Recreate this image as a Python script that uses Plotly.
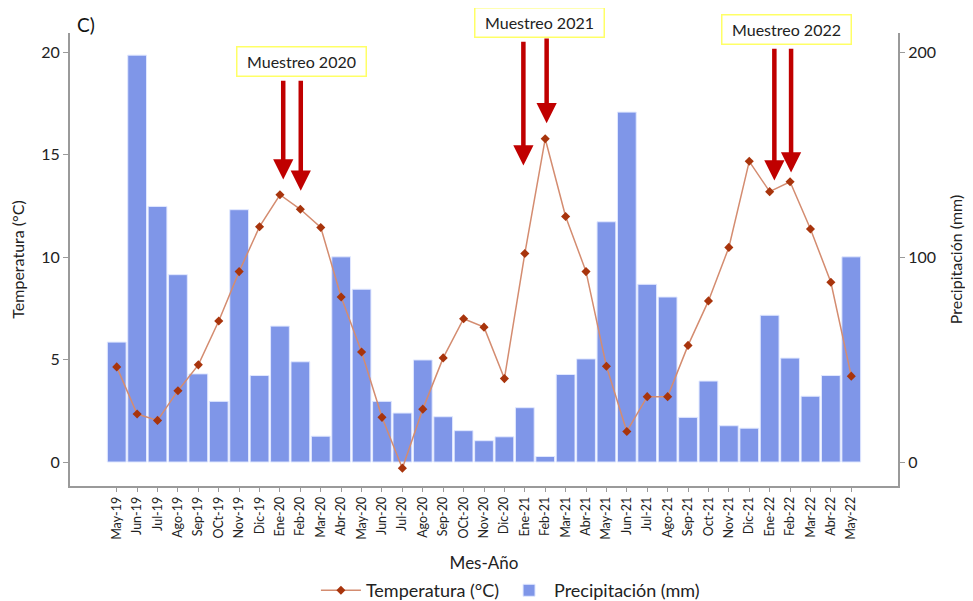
import plotly.graph_objects as go

months = ["May-19", "Jun-19", "Jul-19", "Ago-19", "Sep-19", "OCt-19", "Nov-19", "Dic-19",
          "Ene-20", "Feb-20", "Mar-20", "Abr-20", "May-20", "Jun-20", "Jul-20", "Ago-20",
          "Sep-20", "OCt-20", "Nov-20", "Dic-20", "Ene-21", "Feb-21", "Mar-21", "Abr-21",
          "May-21", "Jun-21", "Jul-21", "Ago-21", "Sep-21", "Oct-21", "Nov-21", "Dic-21",
          "Ene-22", "Feb-22", "Mar-22", "Abr-22", "May-22"]

temperatura = [4.64, 2.34, 2.03, 3.48, 4.74, 6.88, 9.29, 11.48,
               13.04, 12.33, 11.44, 8.05, 5.37, 2.18, -0.30, 2.58,
               5.08, 6.99, 6.58, 4.07, 10.17, 15.77, 11.98, 9.29,
               4.67, 1.49, 3.19, 3.19, 5.69, 7.86, 10.47, 14.67,
               13.19, 13.67, 11.37, 8.77, 4.19]

precipitacion = [58.5, 198.5, 124.7, 91.4, 43.0, 29.6, 123.1, 42.2,
                 66.3, 48.9, 12.6, 100.1, 84.3, 29.6, 23.9, 49.8,
                 22.1, 15.3, 10.4, 12.3, 26.5, 2.7, 42.7, 50.3,
                 117.2, 170.7, 86.7, 80.5, 21.8, 39.5, 17.7, 16.5,
                 71.6, 50.7, 32.1, 42.2, 100.1]

temp_ticks = [0, 5, 10, 15, 20]
prec_ticks = [0, 100, 200]

idx = list(range(len(months)))
FONT = "Lato"
AX = "#9a9a9a"

fig = go.Figure()
fig.add_trace(go.Bar(
    x=idx, y=precipitacion, name="Precipitación (mm)", yaxis="y",
    width=0.92, marker=dict(color="rgb(127,150,232)", line=dict(color="rgb(225,232,255)", width=1)),
    legendrank=2,
))
fig.add_trace(go.Scatter(
    x=idx, y=temperatura, name="Temperatura (°C)", yaxis="y2", mode="lines+markers",
    line=dict(color="rgb(212,140,112)", width=1.5),
    marker=dict(symbol="diamond", size=7, color="rgb(168,52,12)"),
    legendrank=1,
))

arrows = [(8.16, 13.78, 18.67), (9.02, 13.24, 18.67),
          (19.93, 14.46, 20.58), (21.07, 16.53, 20.73),
          (32.23, 13.73, 20.24), (33.05, 14.12, 20.24)]
annotations = []
for xa, ytip, ytail in arrows:
    annotations.append(dict(x=xa, y=ytip, xref="x", yref="y2", ax=xa, ay=ytail,
                            axref="x", ayref="y2", text="", showarrow=True,
                            arrowhead=2, arrowsize=0.9, arrowwidth=4.5, arrowcolor="#c00000"))

for label, xp, yp in [("Muestreo 2020", 0.2796, 0.936), ("Muestreo 2021", 0.5676, 1.024),
                      ("Muestreo 2022", 0.8653, 1.008)]:
    annotations.append(dict(x=xp, y=yp, xref="paper", yref="paper", text=label, showarrow=False,
                            font=dict(family=FONT, size=16, color="#222"),
                            bgcolor="white", bordercolor="#ffff66", borderwidth=1.5,
                            width=122, height=22, borderpad=3,
                            xanchor="center", yanchor="middle"))

annotations.append(dict(x=(75 - 70) / 828, y=(486 - 25) / 453, xref="paper", yref="paper",
                        text="C)", showarrow=False, xanchor="left", yanchor="middle",
                        font=dict(family=FONT, size=19, color="#111")))

# page body has an 8px margin, so the figure is sized/offset to land on the 973x601 window
fig.update_layout(
    width=965, height=593,
    margin=dict(l=62, r=75, t=25, b=115, autoexpand=False),
    paper_bgcolor="white", plot_bgcolor="white",
    font=dict(family=FONT, color="#222"),
    bargap=0.08,
    xaxis=dict(
        range=[-2.29, 38.29], tickmode="array", tickvals=idx, ticktext=months,
        tickangle=-90, tickfont=dict(size=12.5, family=FONT, color="#222"),
        showline=True, linecolor=AX, linewidth=1.5, ticks="outside", ticklen=4, tickcolor=AX,
        showgrid=False, zeroline=False, automargin=False,
        title=dict(text="Mes-Año", font=dict(size=17, family=FONT), standoff=18),
    ),
    yaxis=dict(
        side="right", range=[-11.7, 209.3], tickvals=prec_ticks,
        tickfont=dict(size=16, family=FONT, color="#222"),
        showline=True, linecolor=AX, linewidth=2, ticks="outside", ticklen=5, tickcolor=AX,
        showgrid=False, zeroline=False, automargin=False,
        title=dict(text="Precipitación (mm)", font=dict(size=16, family=FONT), standoff=16),
    ),
    yaxis2=dict(
        side="left", overlaying="y", range=[-1.17, 20.93], tickvals=temp_ticks,
        tickfont=dict(size=16, family=FONT, color="#222"),
        showline=True, linecolor=AX, linewidth=2, ticks="outside", ticklen=5, tickcolor=AX,
        showgrid=False, zeroline=False, automargin=False,
        title=dict(text="Temperatura (°C)", font=dict(size=16, family=FONT), standoff=14),
    ),
    legend=dict(orientation="h", x=0.297, xanchor="left", y=-0.19, yanchor="top",
                font=dict(size=18, family=FONT, color="#222"), itemwidth=40,
                traceorder="normal"),
    annotations=annotations,
)

fig.write_html("out.html")
